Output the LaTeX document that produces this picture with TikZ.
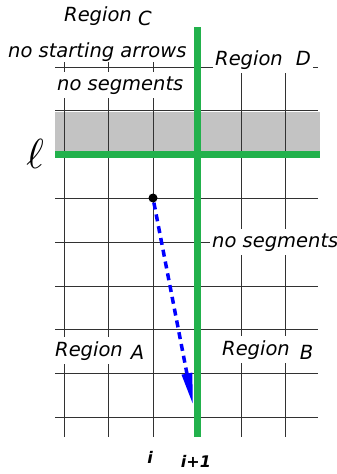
\documentclass[tikz,border=0pt]{standalone}
\usepackage{fontspec}
\setmainfont{DejaVu Sans}
\usetikzlibrary{arrows.meta}
\definecolor{gridgreen}{RGB}{34,177,76}
\definecolor{bandgray}{RGB}{195,195,195}
\definecolor{gridline}{RGB}{50,50,50}
\begin{document}
\begin{tikzpicture}[x=1pt,y=-1pt,
  gridln/.style={draw=gridline,line width=0.9pt},
  greenln/.style={draw=gridgreen,line width=7pt},
  lbl/.style={font=\fontsize{19.5}{20}\selectfont\itshape,inner sep=0pt,anchor=base west},
  boxlbl/.style={lbl,fill=white,inner xsep=2pt,inner ysep=4pt},
  idx/.style={font=\fontsize{16}{16}\selectfont\bfseries\itshape,inner sep=0pt,anchor=base},
  ]
\useasboundingbox (0,0) rectangle (337,474);
\fill[bandgray] (55,112) rectangle (320,151);
\foreach \y in {67,110,198,242,286,329,373,417} \draw[gridln] (55,\y) -- (318,\y);
\foreach \x in {64,108,153,241,285} \draw[gridln] (\x,62) -- (\x,437);
\draw[greenln] (55,154) -- (320,154);
\draw[greenln] (197,27) -- (197,437);
% labels
\node[lbl] (rc) at (64,21) {Region \raisebox{-4pt}{C}};
\node[lbl] (nsa) at (8,57) {no starting arrows};
\node[boxlbl] (rd) at (213,65) {Region\hspace{13pt}D\hspace{4pt}};
\node[boxlbl] (ns1) at (55,90) {no segments};
\node[boxlbl] (ns2) at (210,247) {no segments};
\node[boxlbl] (ra) at (53,356) {Region\hspace{8pt}\raisebox{-3pt}{A}};
\node[boxlbl] (rb) at (220,355) {Region\hspace{10pt}\raisebox{-4pt}{B}};
\node[inner sep=0pt] (ell) at (35,154) {\scalebox{4.2}{$\ell$}};
\node[idx] (ii) at (150,463) {i};
\node[idx] (ii1) at (196,467) {i+1};
% arrow
\node[circle,fill=black,inner sep=0pt,minimum size=9pt] (p) at (153,198) {};
\coordinate (q) at (193,405);
\draw[blue,line width=3.5pt,dash pattern=on 7pt off 5pt,-{Triangle[length=32pt,width=10pt]}] (p) -- (q);
\end{tikzpicture}
\end{document}
